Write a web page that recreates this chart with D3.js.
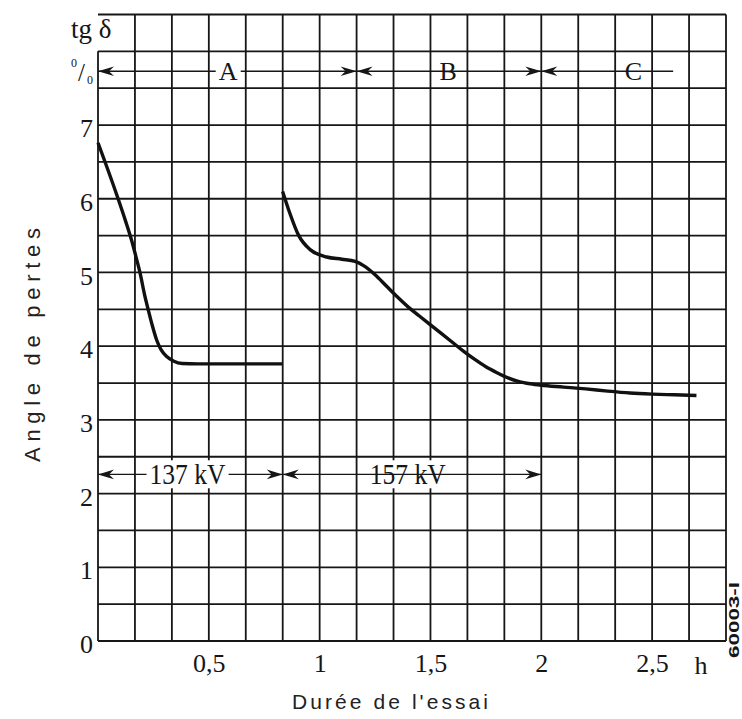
<!DOCTYPE html>
<html>
<head>
<meta charset="utf-8">
<script src="https://cdn.jsdelivr.net/npm/d3@7"></script>
<style>
  html, body { margin: 0; padding: 0; background: #fff; }
  svg { display: block; }
</style>
</head>
<body>
<svg id="chart" width="742" height="719"></svg>
<script>
// Loss angle tg δ (%) of the insulation against test duration (h)

// Phase A – first run at 137 kV
const timeA = [0.000, 0.085, 0.123, 0.155, 0.175, 0.190, 0.210, 0.227, 0.245, 0.265, 0.285, 0.310, 0.340, 0.380, 0.450, 0.600, 0.830];
const tgA   = [6.76, 6.05, 5.71, 5.40, 5.17, 4.99, 4.70, 4.49, 4.28, 4.08, 3.95, 3.86, 3.80, 3.765, 3.76, 3.76, 3.76];

// Phases B and C – run at 157 kV, then continued
const timeB = [0.833, 0.866, 0.904, 0.957, 1.032, 1.100, 1.160, 1.200, 1.250, 1.300, 1.350, 1.400, 1.450, 1.500, 1.550, 1.600, 1.650, 1.700, 1.750, 1.800, 1.850, 1.900, 1.950, 2.000, 2.100, 2.200, 2.300, 2.400, 2.500, 2.600, 2.700];
const tgB   = [6.10, 5.80, 5.51, 5.31, 5.21, 5.18, 5.15, 5.09, 4.97, 4.82, 4.67, 4.53, 4.41, 4.29, 4.17, 4.05, 3.93, 3.82, 3.72, 3.64, 3.57, 3.52, 3.49, 3.47, 3.445, 3.42, 3.39, 3.365, 3.35, 3.34, 3.33];

// Axis ticks
const xTickValues = [0.5, 1, 1.5, 2, 2.5];
const xTickLabels = ["0,5", "1", "1,5", "2", "2,5"];
const yTickValues = [0, 1, 2, 3, 4, 5, 6, 7];

// Test phases (h)
const phaseNames = ["A", "B", "C"];
const phaseStart = [0, 7 / 6, 2];
const phaseEnd   = [7 / 6, 2, 2.595];
const phaseMid   = [0.587, 1.58, 2.416];
const phaseRightHead = [true, true, false];

// Test voltages (h)
const voltNames = ["137 kV", "157 kV"];
const voltStart = [0, 5 / 6];
const voltEnd   = [5 / 6, 2];
const voltMid   = [0.404, 1.397];

const svg = d3.select("#chart");
const x = d3.scaleLinear().domain([0, 17 / 6]).range([98, 726]);
const y = d3.scaleLinear().domain([0, 8.5]).range([641, 14.5]);

const ink = "#161616";
const serif = "'Liberation Serif', 'DejaVu Serif', serif";
const sans = "'Liberation Sans', Arial, sans-serif";

// Grid: 10-minute columns, 0.5 % rows
const grid = svg.append("g").attr("stroke", ink).attr("stroke-width", 1.8).attr("fill", "none");
d3.range(0, 18).forEach(k => {
  const t = k / 6;
  grid.append("line")
    .attr("x1", x(t)).attr("x2", x(t))
    .attr("y1", y(k === 0 ? 8 : 8.5)).attr("y2", y(0));
});
d3.range(0, 18).forEach(k => {
  const v = k * 0.5;
  grid.append("line")
    .attr("x1", x(0)).attr("x2", x(17 / 6))
    .attr("y1", y(v)).attr("y2", y(v));
});

// Tick labels via axes
const yAxis = svg.append("g")
  .attr("transform", `translate(${x(0)},0)`)
  .call(d3.axisLeft(y).tickValues(yTickValues).tickSize(0).tickPadding(5).tickFormat(d3.format("d")));
yAxis.select(".domain").remove();
yAxis.selectAll("text")
  .attr("font-family", serif).attr("font-size", 26).attr("fill", ink)
  .attr("dy", "0.45em");

const xAxis = svg.append("g")
  .attr("transform", `translate(0,${y(0)})`)
  .call(d3.axisBottom(x).tickValues(xTickValues).tickSize(0).tickPadding(13)
    .tickFormat((d, i) => xTickLabels[i]));
xAxis.select(".domain").remove();
xAxis.selectAll("text")
  .attr("font-family", serif).attr("font-size", 26).attr("fill", ink);

svg.append("text")
  .attr("x", x(2.72)).attr("y", 674)
  .attr("text-anchor", "middle")
  .attr("font-family", serif).attr("font-size", 26).attr("fill", ink)
  .text("h");

// Unit label in the corner
svg.append("text")
  .attr("x", 71).attr("y", 38)
  .attr("font-family", serif).attr("font-size", 27).attr("fill", ink)
  .text("tg δ");
const pct = svg.append("text").attr("font-family", serif).attr("fill", ink);
pct.append("tspan").attr("x", 71).attr("y", 67).attr("font-size", 12).text("0");
pct.append("tspan").attr("x", 78).attr("y", 81).attr("font-size", 25).text("/");
pct.append("tspan").attr("x", 87).attr("y", 84).attr("font-size", 12).text("0");

// Arrow helpers
function head(g, xt, yy, dir) {
  const L = 16, H = 4.8, N = 11;
  g.append("path")
    .attr("d", `M${xt},${yy} L${xt - dir * L},${yy - H} L${xt - dir * N},${yy} L${xt - dir * L},${yy + H} Z`)
    .attr("fill", ink);
}
function labelled(g, t0, t1, tm, v, label, leftHead, rightHead, fontSize, len) {
  const yy = y(v);
  g.append("line")
    .attr("x1", x(t0)).attr("x2", x(t1))
    .attr("y1", yy).attr("y2", yy)
    .attr("stroke", ink).attr("stroke-width", 1.3);
  if (leftHead) head(g, x(t0), yy, -1);
  if (rightHead) head(g, x(t1), yy, 1);
  const txt = g.append("text")
    .attr("x", x(tm)).attr("y", yy + fontSize * 0.34)
    .attr("text-anchor", "middle")
    .attr("font-family", serif).attr("font-size", fontSize).attr("fill", ink)
    .text(label);
  if (len) txt.attr("textLength", len).attr("lengthAdjust", "spacingAndGlyphs");
  const bb = txt.node().getBBox();
  g.insert("rect", "text")
    .attr("x", bb.x - 3).attr("y", bb.y + 2)
    .attr("width", bb.width + 6).attr("height", bb.height - 4)
    .attr("fill", "#fff");
}

const phases = svg.append("g");
phaseNames.forEach((n, i) => {
  labelled(phases, phaseStart[i], phaseEnd[i], phaseMid[i], 7.73, n, true, phaseRightHead[i], 26, null);
});

const volts = svg.append("g");
voltNames.forEach((n, i) => {
  labelled(volts, voltStart[i], voltEnd[i], voltMid[i], 2.26, n, true, true, 29, 76);
});

// Curves
const line = d3.line().x(d => x(d[0])).y(d => y(d[1])).curve(d3.curveMonotoneX);
const curveStyle = sel => sel.attr("fill", "none").attr("stroke", "#111")
  .attr("stroke-width", 3.4).attr("stroke-linecap", "butt").attr("stroke-linejoin", "round");
svg.append("path").datum(d3.zip(timeA, tgA)).attr("d", line).call(curveStyle);
svg.append("path").datum(d3.zip(timeB, tgB)).attr("d", line).call(curveStyle);

// Axis titles
svg.append("text")
  .attr("transform", "translate(40,345) rotate(-90)")
  .attr("text-anchor", "middle")
  .attr("font-family", sans).attr("font-size", 22).attr("fill", "#222")
  .attr("textLength", 234).attr("lengthAdjust", "spacing")
  .text("Angle de pertes");

svg.append("text")
  .attr("x", 390).attr("y", 709)
  .attr("text-anchor", "middle")
  .attr("font-family", sans).attr("font-size", 21).attr("fill", "#222")
  .attr("textLength", 196).attr("lengthAdjust", "spacing")
  .text("Durée de l'essai");

// Figure reference
svg.append("text")
  .attr("transform", "translate(739,620) rotate(-90)")
  .attr("text-anchor", "middle")
  .attr("font-family", sans).attr("font-size", 15).attr("font-weight", "bold").attr("fill", ink)
  .attr("textLength", 76).attr("lengthAdjust", "spacingAndGlyphs")
  .text("60003-I");
</script>
</body>
</html>
